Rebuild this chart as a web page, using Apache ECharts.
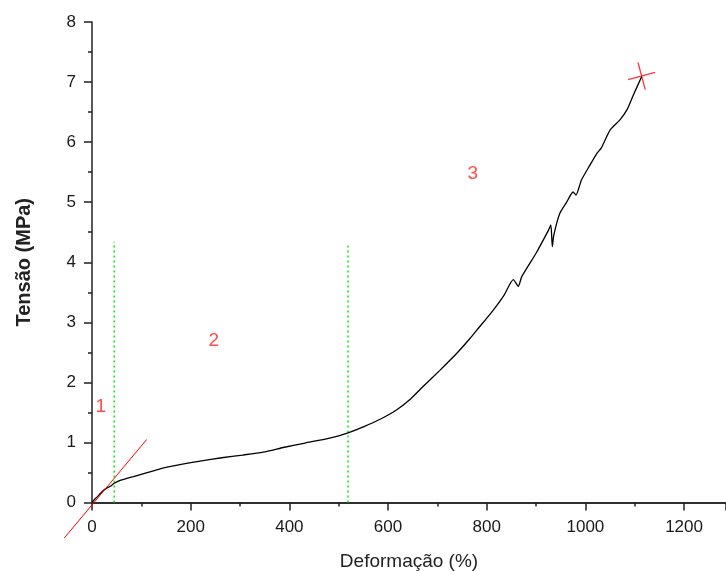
<!DOCTYPE html>
<html>
<head>
<meta charset="utf-8">
<script src="https://cdn.jsdelivr.net/npm/echarts@6/dist/echarts.min.js"></script>
<style>
  html, body { margin: 0; padding: 0; background: #fff; }
  #chart { width: 726px; height: 571px; }
</style>
</head>
<body>
<div id="chart"></div>
<script>
// curva tensão x deformação
const strain = [0, 5, 10, 17, 23, 30, 37, 45, 57, 70, 84, 105, 138, 178, 219, 263, 305, 347, 390, 432,
  475, 500, 519, 550, 585, 617, 645, 671, 705, 739, 766, 780, 813, 835, 854, 864, 871, 900, 925, 930,
  933, 936, 948, 962, 975, 981, 992, 1008, 1023, 1032, 1050, 1070, 1085, 1097, 1114];
const stress = [0, 0.05, 0.09, 0.15, 0.2, 0.24, 0.27, 0.32, 0.37, 0.4, 0.43, 0.48, 0.56, 0.63, 0.69, 0.745, 0.79, 0.84, 0.92, 0.99,
  1.06, 1.11, 1.16, 1.26, 1.39, 1.54, 1.72, 1.93, 2.2, 2.48, 2.73, 2.87, 3.2, 3.45, 3.71, 3.6, 3.76, 4.15, 4.53, 4.62,
  4.26, 4.45, 4.81, 5.0, 5.17, 5.12, 5.37, 5.6, 5.81, 5.9, 6.2, 6.37, 6.55, 6.78, 7.09];

// reta do módulo (região 1)
const fitX = [-56, 111];
const fitY = [-0.59, 1.05];

// limites das regiões
const boundX = [45, 519];
const boundTop = [4.34, 4.28];

// rótulos das regiões
const regionText = ["1", "2", "3"];
const regionX = [18, 247, 772];
const regionY = [1.6, 2.7, 5.47];

// ponto de ruptura
const breakPoint = [1114, 7.1];

const xTicks = [0, 200, 400, 600, 800, 1000, 1200];
const yTicks = [0, 1, 2, 3, 4, 5, 6, 7, 8];

const zip = (a, b) => a.map((v, i) => [v, b[i]]);

const chart = echarts.init(document.getElementById("chart"));
const font = "Liberation Sans, Arial, sans-serif";

const option = {
  backgroundColor: "#fff",
  animation: false,
  grid: { left: 92, right: 0, top: 22, bottom: 68.5, containLabel: false, outerBoundsMode: "none" },
  xAxis: [
    {
      type: "value",
      min: xTicks[0],
      max: 1285,
      interval: 200,
      name: "Deformação (%)",
      nameLocation: "middle",
      nameGap: 50,
      nameTextStyle: { fontFamily: font, fontSize: 19, color: "#222" },
      axisLine: { onZero: false, lineStyle: { color: "#222", width: 1.5 } },
      axisTick: { length: 8, lineStyle: { color: "#222", width: 1.5 } },
      minorTick: { show: true, splitNumber: 2, length: 4, lineStyle: { color: "#222", width: 1.5 } },
      axisLabel: {
        fontFamily: font, fontSize: 17, color: "#1a1a1a", margin: 16, showMaxLabel: false,
        formatter: (v) => (xTicks.includes(v) ? String(v) : ""),
      },
      splitLine: { show: false },
    },
    {
      type: "value",
      position: "top",
      min: xTicks[0],
      max: 1285,
      axisLine: { show: true, lineStyle: { color: "#222", width: 1.5 } },
      axisTick: { show: false },
      axisLabel: { show: false },
      splitLine: { show: false },
    },
  ],
  yAxis: {
    type: "value",
    min: yTicks[0],
    max: yTicks[yTicks.length - 1],
    interval: 1,
    name: "Tensão (MPa)",
    nameLocation: "middle",
    nameGap: 58,
    nameTextStyle: { fontFamily: font, fontSize: 20, fontWeight: "bold", color: "#222" },
    axisLine: { show: true, onZero: false, lineStyle: { color: "#222", width: 1.5 } },
    axisTick: { length: 8, lineStyle: { color: "#222", width: 1.5 } },
    minorTick: { show: true, splitNumber: 2, length: 4, lineStyle: { color: "#222", width: 1.5 } },
    axisLabel: { fontFamily: font, fontSize: 17, color: "#1a1a1a", margin: 16 },
    splitLine: { show: false },
  },
  series: [
    {
      name: "limite1",
      type: "line",
      data: [[boundX[0], 0], [boundX[0], boundTop[0]]],
      showSymbol: false,
      lineStyle: { color: "#00ee00", width: 1.5, type: [2, 3] },
    },
    {
      name: "limite2",
      type: "line",
      data: [[boundX[1], 0], [boundX[1], boundTop[1]]],
      showSymbol: false,
      lineStyle: { color: "#00ee00", width: 1.5, type: [2, 3] },
    },
    {
      name: "curva",
      type: "line",
      data: zip(strain, stress),
      showSymbol: false,
      smooth: 0.2,
      lineStyle: { color: "#000", width: 1.3 },
    },
    {
      name: "ruptura",
      type: "scatter",
      data: [breakPoint],
      symbol: "path://M10,0L10,20M0,10L20,10",
      symbolSize: 28,
      symbolRotate: 15,
      itemStyle: { color: "none", borderColor: "#ff0000", borderWidth: 1.3 },
      silent: true,
    },
    {
      name: "regiões",
      type: "scatter",
      data: regionText.map((t, i) => ({ value: [regionX[i], regionY[i]], name: t })),
      symbolSize: 0,
      label: {
        show: true,
        position: "inside",
        formatter: (p) => p.name,
        fontFamily: font,
        fontSize: 19,
        color: "#ff2020",
      },
      silent: true,
    },
  ],
};

chart.setOption(option);

// a reta sai da área do gráfico, então desenha como graphic usando a escala dos eixos
const p0 = chart.convertToPixel({ gridIndex: 0 }, [fitX[0], fitY[0]]);
const p1 = chart.convertToPixel({ gridIndex: 0 }, [fitX[1], fitY[1]]);
chart.setOption({
  graphic: [
    {
      type: "line",
      shape: { x1: p0[0], y1: p0[1], x2: p1[0], y2: p1[1] },
      style: { stroke: "#ff0000", lineWidth: 1 },
      z: 10,
    },
  ],
});
</script>
</body>
</html>
